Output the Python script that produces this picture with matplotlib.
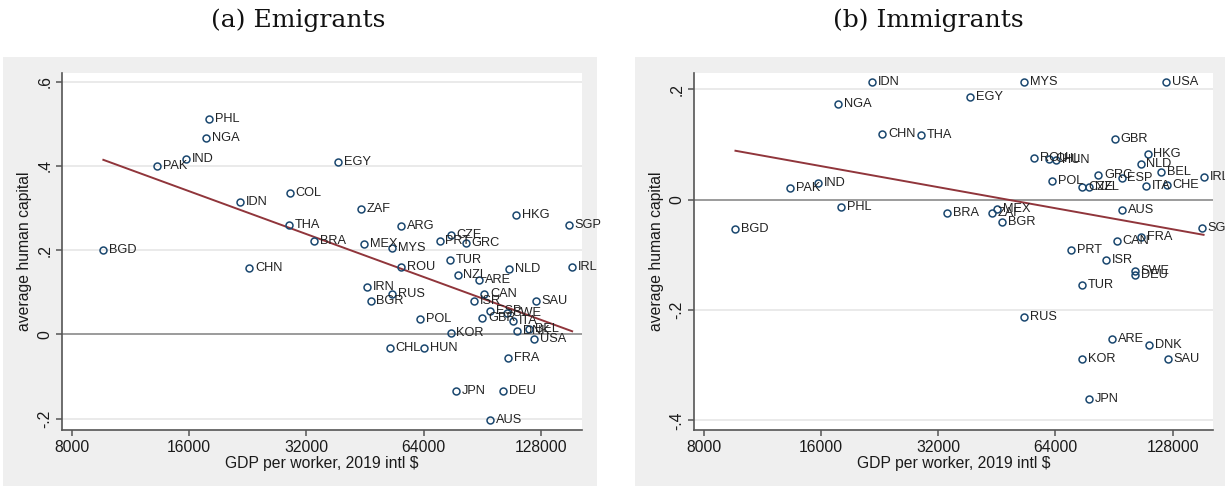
import numpy as np
import matplotlib
matplotlib.use("Agg")
import matplotlib.pyplot as plt
from matplotlib.patches import Rectangle
from matplotlib.ticker import FixedLocator, NullLocator

# ---------------- data ----------------
codes_a = ["PHL", "NGA", "IND", "PAK", "IDN", "COL", "THA", "BGD", "CHN", "BRA",
           "MEX", "MYS", "ARG", "ZAF", "EGY", "ROU", "IRN", "RUS", "BGR", "HKG",
           "SGP", "PRT", "CZE", "GRC", "TUR", "NZL", "ARE", "NLD", "IRL", "CAN",
           "ISR", "SAU", "ESP", "GBR", "SWE", "ITA", "DNK", "BEL", "USA", "POL",
           "KOR", "CHL", "HUN", "FRA", "JPN", "DEU", "AUS"]
gdp_a = [17980, 17656, 15758, 13243, 21590, 29010, 28790, 9650, 22866, 33494,
         44920, 53106, 55903, 44145, 38594, 55900, 45816, 53100, 46734, 110080,
         150560, 70240, 75120, 81920, 74660, 78140, 88780, 105620, 153600, 91460,
         86050, 123900, 94600, 90380, 104560, 108560, 111100, 119300, 122900, 62540,
         74960, 52380, 64150, 105400, 77500, 102100, 94740]
hc_a = [0.511, 0.467, 0.415, 0.400, 0.315, 0.335, 0.259, 0.200, 0.157, 0.221,
        0.214, 0.206, 0.258, 0.297, 0.409, 0.160, 0.112, 0.096, 0.079, 0.284,
        0.260, 0.222, 0.236, 0.216, 0.176, 0.140, 0.128, 0.156, 0.161, 0.096,
        0.080, 0.078, 0.055, 0.039, 0.050, 0.032, 0.008, 0.012, -0.010, 0.036,
        0.004, -0.032, -0.032, -0.057, -0.134, -0.134, -0.204]

codes_b = ["IDN", "NGA", "CHN", "THA", "PAK", "IND", "PHL", "BGD", "MYS", "USA",
           "EGY", "GBR", "HKG", "NLD", "BEL", "IRL", "CHE", "ITA", "ESP", "GRC",
           "POL", "ROU", "CHL", "HUN", "CZE", "NZL", "AUS", "SGP", "MEX", "ZAF",
           "BGR", "BRA", "CAN", "FRA", "PRT", "ISR", "SWE", "DEU", "TUR", "RUS",
           "ARE", "DNK", "KOR", "SAU", "JPN"]
gdp_b = [21710, 17730, 22985, 28900, 13350, 15780, 18010, 9660, 53270, 123000,
         38660, 90900, 110400, 105950, 119680, 153700, 123500, 109300, 94700, 82500,
         62860, 56300, 61800, 64360, 75120, 78140, 95000, 151900, 45250, 43950,
         46800, 33680, 91950, 106400, 70200, 86300, 102400, 102400, 74800, 53270,
         89300, 111300, 75000, 124500, 77900]
hc_b = [0.213, 0.173, 0.119, 0.118, 0.022, 0.031, -0.013, -0.053, 0.213, 0.213,
        0.186, 0.110, 0.083, 0.064, 0.051, 0.041, 0.027, 0.024, 0.039, 0.045,
        0.034, 0.075, 0.074, 0.072, 0.023, 0.023, -0.018, -0.051, -0.016, -0.025,
        -0.040, -0.025, -0.074, -0.068, -0.092, -0.109, -0.129, -0.137, -0.155, -0.213,
        -0.252, -0.263, -0.288, -0.288, -0.361]

xticks = [8000, 16000, 32000, 64000, 128000]
yticks_a = [-0.2, 0.0, 0.2, 0.4, 0.6]
yticklabels_a = ["-.2", "0", ".2", ".4", ".6"]
yticks_b = [-0.4, -0.2, 0.0, 0.2]
yticklabels_b = ["-.4", "-.2", "0", ".2"]
titles = ["(a) Emigrants", "(b) Immigrants"]

# ---------------- style ----------------
W, H = 1225, 486
SANS = ["Liberation Sans", "DejaVu Sans"]
plt.rcParams["font.family"] = SANS
NAVY = "#1a476f"
MAROON = "#90353b"
PANEL = "#efefef"

fig = plt.figure(figsize=(W / 100, H / 100), dpi=100)
fig.patch.set_facecolor("white")


def px_rect(x0, y0, x1, y1):
    return [x0 / W, 1 - y1 / H, (x1 - x0) / W, (y1 - y0) / H]


# grey panel backgrounds (a background axes below everything)
bg = fig.add_axes([0, 0, 1, 1], zorder=-5)
bg.set_xlim(0, W)
bg.set_ylim(H, 0)
bg.axis("off")
for (x0, x1) in [(3, 597), (635, 1225)]:
    bg.add_patch(Rectangle((x0, 57), x1 - x0, H - 57, facecolor=PANEL, edgecolor="none"))

panels = [
    dict(codes=codes_a, gdp=gdp_a, hc=hc_a, rect=px_rect(62, 72.7, 582, 430),
         ylim=(-0.227, 0.621), yt=yticks_a, ytl=yticklabels_a, title=titles[0], tx=298),
    dict(codes=codes_b, gdp=gdp_b, hc=hc_b, rect=px_rect(694, 72.7, 1213.3, 430),
         ylim=(-0.4176, 0.2303), yt=yticks_b, ytl=yticklabels_b, title=titles[1], tx=928),
]

for p in panels:
    ax = fig.add_axes(p["rect"], zorder=1)
    ax.set_facecolor("white")
    ax.set_xscale("log", base=2)
    ax.set_xlim(7560, 162800)
    ax.set_ylim(*p["ylim"])

    gdp = np.array(p["gdp"], dtype=float)
    hc = np.array(p["hc"], dtype=float)

    # gridlines and zero line
    for yv in p["yt"]:
        if yv != 0:
            ax.axhline(yv, color="#e6e6e6", lw=1.2, zorder=1)
    ax.axhline(0, color="#808080", lw=1.1, zorder=2)

    # fitted line (OLS of y on log x)
    lx = np.log(gdp)
    b, a = np.polyfit(lx, hc, 1)
    xs = np.array([gdp.min(), gdp.max()])
    ax.plot(xs, a + b * np.log(xs), color=MAROON, lw=1.4, zorder=3)

    ax.plot(gdp, hc, linestyle="none", marker="o", ms=5.0, mfc="none",
            mec=NAVY, mew=1.1, zorder=4, clip_on=False)
    for c, x, y in zip(p["codes"], gdp, hc):
        ax.annotate(c, (x, y), xytext=(4.2, 0), textcoords="offset points",
                    ha="left", va="center", fontsize=9.2, color="#222222", zorder=5,
                    annotation_clip=False)

    ax.xaxis.set_major_locator(FixedLocator(xticks))
    ax.xaxis.set_minor_locator(NullLocator())
    ax.set_xticklabels([str(v) for v in xticks])
    ax.set_yticks(p["yt"])
    ax.set_yticklabels(p["ytl"], rotation=90, va="center")
    for s in ["top", "right"]:
        ax.spines[s].set_visible(False)
    for s in ["left", "bottom"]:
        ax.spines[s].set_color("#555555")
        ax.spines[s].set_linewidth(1.2)
    ax.tick_params(axis="both", direction="out", length=4, width=1.1, color="#555555",
                   labelsize=11.3, labelcolor="#1a1a1a", pad=3)
    ax.set_xlabel("GDP per worker, 2019 intl $", fontsize=11.3, color="#1a1a1a", labelpad=1)
    ax.set_ylabel("average human capital", fontsize=11.3, color="#1a1a1a", labelpad=4)

    fig.text(p["tx"] / W, 1 - 20 / H, p["title"], ha="center", va="center",
             fontsize=18, family=["DejaVu Serif"], color="#111111")

fig.savefig("out.png", dpi=100, facecolor="white")
